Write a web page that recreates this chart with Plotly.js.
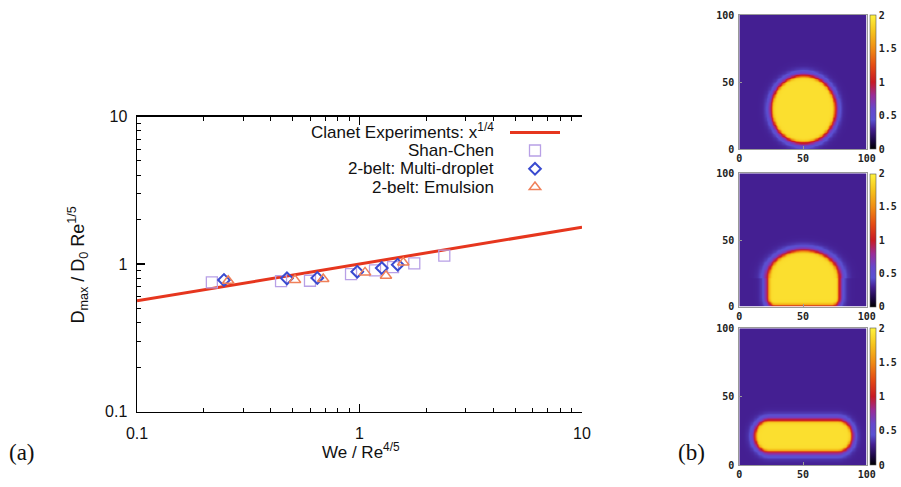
<!DOCTYPE html>
<html><head><meta charset="utf-8">
<script src="https://cdn.plot.ly/plotly-3.0.1.min.js"></script>
<style>html,body{margin:0;padding:0;background:#fff}#chart{width:901px;height:487px}</style>
</head><body><div id="chart"></div><script>
// ---- panel (a) data ----
const lineX = [0.1, 10];
const lineY = [0.5623, 1.7783];
const xShanChen = [0.217, 0.444, 0.599, 0.916, 1.174, 1.415, 1.763, 2.405];
const yShanChen = [0.751, 0.765, 0.770, 0.855, 0.905, 0.951, 1.010, 1.140];
const xMulti = [0.246, 0.472, 0.646, 0.977, 1.259, 1.485];
const yMulti = [0.779, 0.799, 0.804, 0.887, 0.939, 0.989];
const xEmul = [0.257, 0.513, 0.687, 1.059, 1.315, 1.573];
const yEmul = [0.770, 0.779, 0.791, 0.877, 0.833, 1.025];
const legendNames = ['Clanet Experiments: x<sup>1/4</sup>', 'Shan-Chen', '2-belt: Multi-droplet', '2-belt: Emulsion'];
const xTickVals = [0.1, 1, 10];
const yTickVals = [0.1, 1, 10];
const tickText = ['0.1', '1', '10'];

// ---- panel (b) data: droplet geometry (lattice units) ----
const dropCx    = [50, 50, 50];
const dropCy    = [30, 18, 21.5];
const dropHalfW = [25, 28, 38];
const dropUp    = [25, 24.5, 11.5];
const dropDown  = [25, 17, 11.5];
const dropTopRx = [25, 28, 11.5];
const dropTopRy = [25, 21, 11.5];
const dropBotRx = [25, 6, 11.5];
const dropBotRy = [25, 6, 11.5];
const liquidDensity = 1.9;
const gasDensity = 0.3;
const widthOutside = 3.4;
const widthInside = 1.3;
const cbTicks = [0, 0.5, 1, 1.5, 2];
const cbTickText = ['0', '0.5', '1', '1.5', '2'];
const hmTicks = [0, 50, 100];

function signedDist(i, x, y) {
  const up = y > dropCy[i];
  const rx = up ? dropTopRx[i] : dropBotRx[i];
  const ry = up ? dropTopRy[i] : dropBotRy[i];
  const hy = up ? dropUp[i] : dropDown[i];
  const qx = Math.abs(x - dropCx[i]) - (dropHalfW[i] - rx);
  const qy = Math.abs(y - dropCy[i]) - (hy - ry);
  if (qx > 0 && qy > 0) return (Math.hypot(qx / rx, qy / ry) - 1) * Math.min(rx, ry);
  return Math.max(qx - rx, qy - ry);
}

function densityField(i) {
  const xs = [], ys = [], z = [];
  for (let k = 0; k <= 100; k++) { xs.push(k); ys.push(k); }
  for (const y of ys) {
    const row = [];
    for (const x of xs) {
      const d = signedDist(i, x, y);
      const w = d > 0 ? widthOutside : widthInside;
      row.push(gasDensity + (liquidDensity - gasDensity) * 0.5 * (1 - Math.tanh(d / w)));
    }
    z.push(row);
  }
  return {xs, ys, z};
}

const W = 901, H = 487;
const px = v => v / W, py = v => 1 - v / H;

const cscale = [[0,'#000000'],[0.06,'#1a0640'],[0.15,'#441f92'],[0.22,'#5a52d2'],[0.3,'#6648cc'],[0.4,'#9a2c98'],[0.5,'#c81a24'],[0.62,'#e44a14'],[0.75,'#f08c14'],[0.88,'#f6c41c'],[1,'#fff23c']];

const panels = [[15, 149], [173.3, 306.7], [328.3, 465]];
const hmX = [739.3, 866.7];
const monoFont = {family: 'DejaVu Sans Mono, monospace', size: 10, color: '#222', weight: 'bold'};

const legendRows = [131.5, 150.5, 168.8, 187];
const legendIds = ['legend', 'legend2', 'legend3', 'legend4'];

const traces = [
  {x: lineX, y: lineY, mode: 'lines', name: ' ', legend: 'legend', line: {color: '#e6361e', width: 3}},
  {x: xShanChen, y: yShanChen, mode: 'markers', name: ' ', legend: 'legend2', marker: {symbol: 'square-open', size: 11, color: '#b8a0e6', line: {width: 1.3}}},
  {x: xMulti, y: yMulti, mode: 'markers', name: ' ', legend: 'legend3', marker: {symbol: 'diamond-open', size: 9, color: '#3a4bd0', line: {width: 2}}},
  {x: xEmul, y: yEmul, mode: 'markers', name: ' ', legend: 'legend4', marker: {symbol: 'triangle-up-open', size: 10, color: '#f0805a', line: {width: 1.5}}}
];

const layout = {
  width: W, height: H, margin: {l: 0, r: 0, t: 0, b: 0},
  paper_bgcolor: '#fff', plot_bgcolor: '#fff',
  font: {family: 'Liberation Sans, Arial, sans-serif', color: '#111', size: 16},
  showlegend: true,
  xaxis: {type: 'log', domain: [px(137), px(582)], range: [-1, 1], anchor: 'y',
    showline: true, linecolor: '#000', linewidth: 1.5, mirror: 'ticks', showgrid: false, zeroline: false,
    ticks: 'inside', ticklen: 8, tickwidth: 1.3, tickcolor: '#000', tickvals: xTickVals, ticktext: tickText,
    ticklabelstandoff: 7,
    minor: {ticks: 'inside', ticklen: 4, tickwidth: 1, tickcolor: '#000', dtick: 'D1', showgrid: false}},
  yaxis: {type: 'log', domain: [py(411.5), py(116.5)], range: [-1, 1], anchor: 'x',
    showline: true, linecolor: '#000', linewidth: 1.5, mirror: false, showgrid: false, zeroline: false,
    ticks: 'inside', ticklen: 8, tickwidth: 1.3, tickcolor: '#000', tickvals: yTickVals, ticktext: tickText,
    ticklabelstandoff: 5,
    minor: {ticks: 'inside', ticklen: 4, tickwidth: 1, tickcolor: '#000', dtick: 'D1', showgrid: false}},
  annotations: [
    {xref: 'paper', yref: 'paper', x: px(361), y: py(464), text: 'We / Re<sup>4/5</sup>', showarrow: false, font: {size: 17}},
    {xref: 'paper', yref: 'paper', x: px(63), y: py(265), text: 'D<sub>max</sub> / D<sub>0</sub> Re<sup>1/5</sup>', showarrow: false, textangle: -90, font: {size: 18}},
    {xref: 'paper', yref: 'paper', x: px(7), y: py(467), xanchor: 'left', text: '(a)', showarrow: false, font: {family: 'Liberation Serif, serif', size: 23}},
    {xref: 'paper', yref: 'paper', x: px(676), y: py(467), xanchor: 'left', text: '(b)', showarrow: false, font: {family: 'Liberation Serif, serif', size: 23}}
  ]
};

legendIds.forEach((id, i) => {
  layout[id] = {x: px(505), y: py(legendRows[i] + (i === 0 ? 1 : 0)), xanchor: 'left', yanchor: 'middle', bgcolor: 'rgba(0,0,0,0)', font: {size: 8}, itemwidth: 50, borderwidth: 0};
});

legendNames.forEach((t, i) => layout.annotations.push({xref: 'paper', yref: 'paper', x: px(496), y: py(legendRows[i]), xanchor: 'right', yanchor: 'middle', text: t, showarrow: false, font: {size: 17}}));

panels.forEach((p, i) => {
  const f = densityField(i);
  const n = i + 2;
  traces.push({type: 'heatmap', x: f.xs, y: f.ys, z: f.z, zmin: 0, zmax: 2, colorscale: cscale, zsmooth: 'best',
    xaxis: 'x' + n, yaxis: 'y' + n, showlegend: false,
    colorbar: {x: px(870), xanchor: 'left', xpad: 0, y: (py(p[0]) + py(p[1])) / 2, yanchor: 'middle', len: (p[1] - p[0]) / H, lenmode: 'fraction',
      thickness: 6, ypad: 0, outlinewidth: 0.6, outlinecolor: '#555', tickvals: cbTicks, ticktext: cbTickText, ticks: '',
      tickfont: monoFont}});
  layout['xaxis' + n] = {domain: [px(hmX[0]), px(hmX[1])], anchor: 'y' + n, range: [0, 100], tickvals: hmTicks,
    showline: true, mirror: true, linecolor: '#999', linewidth: 1, ticks: 'inside', ticklen: 3, tickcolor: '#999', showgrid: false, zeroline: false,
    tickfont: monoFont, ticklabelstandoff: 0};
  layout['yaxis' + n] = {domain: [py(p[1]), py(p[0])], anchor: 'x' + n, range: [0, 100], tickvals: hmTicks,
    showline: true, mirror: true, linecolor: '#999', linewidth: 1, ticks: 'inside', ticklen: 3, tickcolor: '#999', showgrid: false, zeroline: false,
    tickfont: monoFont, ticklabelstandoff: 2};
});

Plotly.newPlot('chart', traces, layout, {displayModeBar: false, staticPlot: true});
</script></body></html>
